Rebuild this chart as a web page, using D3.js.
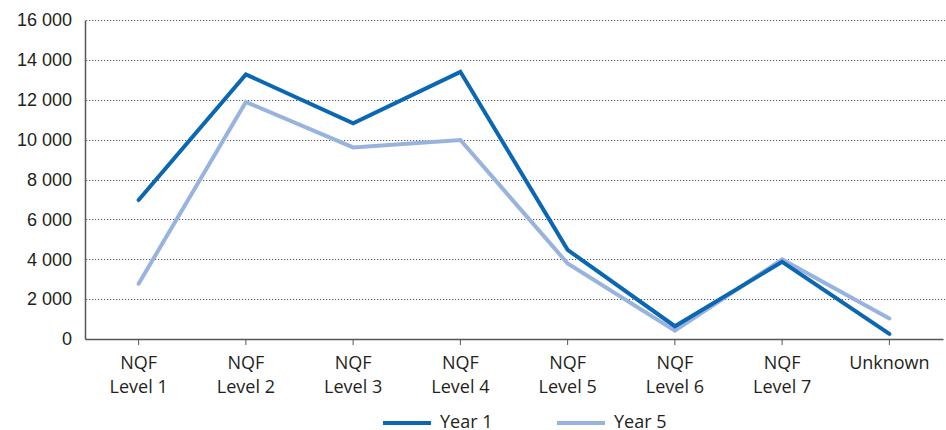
<!DOCTYPE html>
<html>
<head>
<meta charset="utf-8">
<script src="https://cdn.jsdelivr.net/npm/d3@7/dist/d3.min.js"></script>
<style>
  html, body { margin: 0; padding: 0; background: #fff; }
  svg { display: block; font-family: "Open Sans", "Noto Sans", sans-serif; }
</style>
</head>
<body>
<svg id="chart" width="946" height="430"></svg>
<script>
// Qualification levels on the x axis (two-line labels split on "\n")
const categories = ["NQF\nLevel 1", "NQF\nLevel 2", "NQF\nLevel 3", "NQF\nLevel 4",
                    "NQF\nLevel 5", "NQF\nLevel 6", "NQF\nLevel 7", "Unknown"];
const year1 = [6970, 13270, 10820, 13400, 4470, 640, 3870, 260];
const year5 = [2770, 11890, 9610, 9980, 3790, 420, 3990, 1030];
const yTicks = [0, 2000, 4000, 6000, 8000, 10000, 12000, 14000, 16000];
const seriesNames = ["Year 1", "Year 5"];
const seriesColors = ["#0b67b2", "#98b3de"];

const svg = d3.select("#chart");
const margin = { left: 85, right: 3, top: 20, bottom: 91 };
const W = 946, H = 430;
const fontSize = 18;

const x = d3.scaleBand().domain(categories).range([margin.left, W - margin.right]);
const y = d3.scaleLinear().domain([0, 16000]).range([H - margin.bottom, margin.top]);

const fmt = v => d3.format(",")(v).replace(/,/g, " ");

// dotted horizontal gridlines
svg.append("g")
  .selectAll("line")
  .data(yTicks.filter(d => d > 0))
  .join("line")
  .attr("x1", margin.left + 1)
  .attr("x2", W - 1)
  .attr("y1", d => Math.round(y(d)) + 0.5)
  .attr("y2", d => Math.round(y(d)) + 0.5)
  .attr("stroke", "#555")
  .attr("stroke-width", 1)
  .attr("stroke-dasharray", "1.2,1.8");

// y axis
const yAxis = svg.append("g")
  .attr("transform", `translate(${margin.left},0)`)
  .call(d3.axisLeft(y).tickValues(yTicks).tickSize(0).tickPadding(13).tickFormat(fmt));
yAxis.select(".domain").attr("stroke", "#555").attr("stroke-width", 1.5);
yAxis.selectAll("text").attr("font-size", fontSize).attr("fill", "#231f20");

// x axis
const xAxis = svg.append("g")
  .attr("transform", `translate(0,${y(0)})`)
  .call(d3.axisBottom(x).tickSizeInner(6).tickSizeOuter(0).tickFormat(""));
xAxis.select(".domain").attr("stroke", "#555").attr("stroke-width", 1.5);
xAxis.selectAll(".tick line").attr("stroke", "#555").attr("stroke-width", 1);

// x labels, two lines each
const labels = svg.append("g").selectAll("text")
  .data(categories)
  .join("text")
  .attr("x", d => x(d) + x.bandwidth() / 2)
  .attr("y", y(0) + 30)
  .attr("text-anchor", "middle")
  .attr("font-size", fontSize)
  .attr("fill", "#231f20");
labels.each(function(d) {
  const parts = d.split("\n");
  d3.select(this).selectAll("tspan")
    .data(parts)
    .join("tspan")
    .attr("x", x(d) + x.bandwidth() / 2)
    .attr("dy", (p, i) => i === 0 ? 0 : 24)
    .text(p => p);
});

// lines: Year 5 first so Year 1 sits on top
const line = d3.line()
  .x((v, i) => x(categories[i]) + x.bandwidth() / 2)
  .y(v => y(v));

[[year5, 1], [year1, 0]].forEach(([vals, k]) => {
  svg.append("path")
    .datum(vals)
    .attr("d", line)
    .attr("fill", "none")
    .attr("stroke", seriesColors[k])
    .attr("stroke-width", 4)
    .attr("stroke-linejoin", "miter")
    .attr("stroke-linecap", "round");
});

// legend
const legendX = [383, 557];
const legend = svg.append("g");
seriesNames.forEach((name, k) => {
  legend.append("line")
    .attr("x1", legendX[k]).attr("x2", legendX[k] + 48)
    .attr("y1", 423).attr("y2", 423)
    .attr("stroke", seriesColors[k]).attr("stroke-width", 4);
  legend.append("text")
    .attr("x", legendX[k] + 57).attr("y", 428)
    .attr("font-size", fontSize).attr("fill", "#231f20")
    .text(name);
});
</script>
</body>
</html>
